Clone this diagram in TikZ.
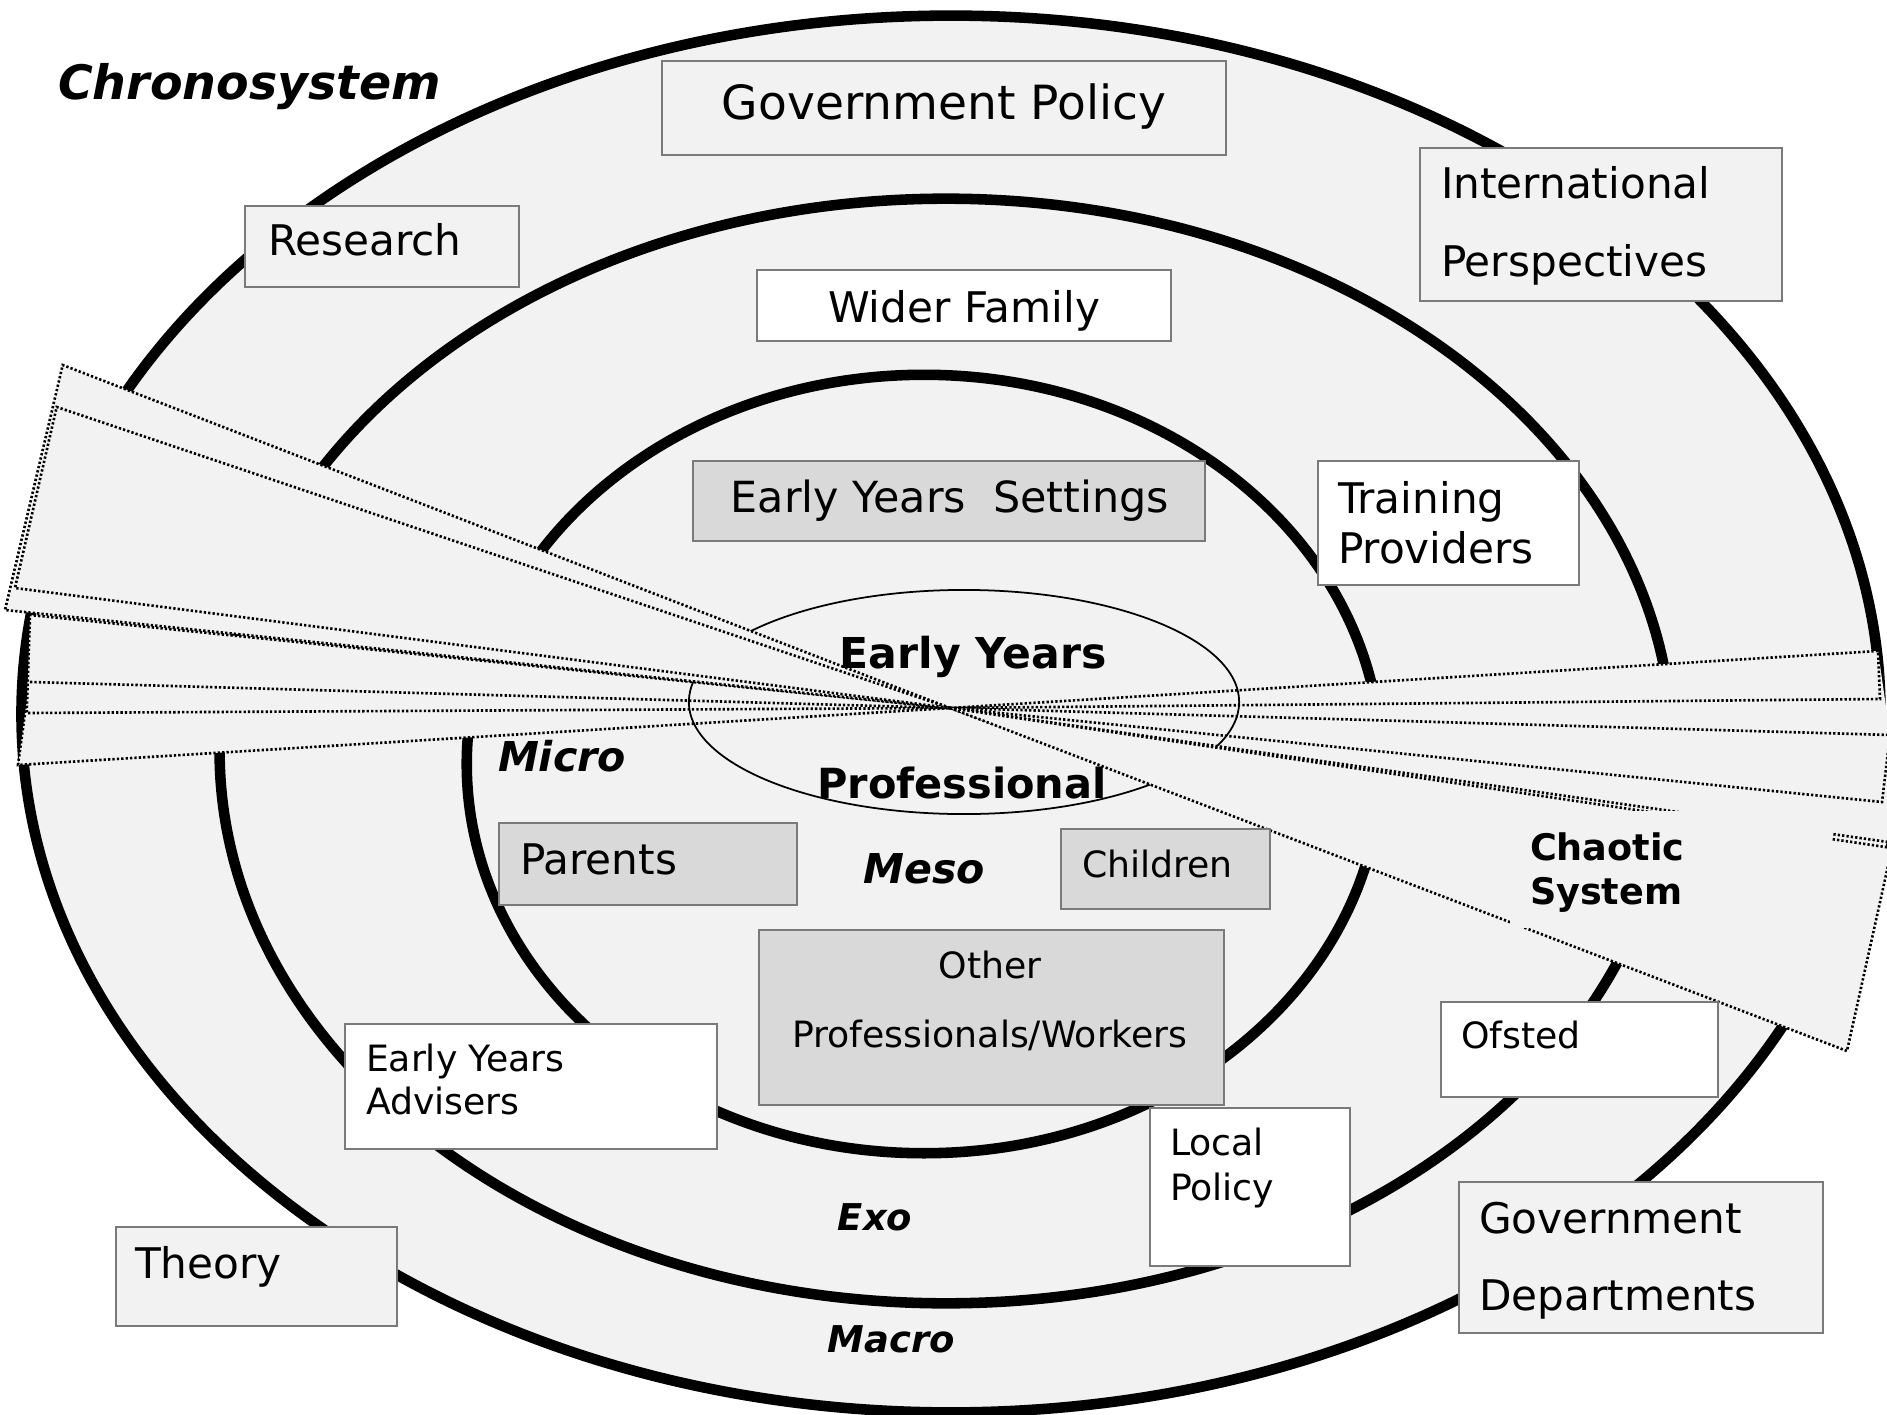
\documentclass[tikz,border=0pt]{standalone}
\usepackage{fontspec}
\setmainfont{DejaVu Sans}
\definecolor{ringfill}{HTML}{F2F2F2}
\definecolor{boxgrey}{HTML}{D9D9D9}
\definecolor{boxedge}{HTML}{7A7A7A}
\begin{document}
\begin{tikzpicture}[x=0.01cm,y=-0.01cm,
  ringline/.style={draw=black,line width=3pt,fill=ringfill},
  beam/.style={fill=ringfill,draw=black,line width=0.75pt,dash pattern=on 0.65pt off 0.6pt},
  beamline/.style={draw=black,line width=0.75pt,dash pattern=on 0.65pt off 0.6pt},
  tbox/.style={draw=boxedge,line width=0.45pt},
  txt/.style={inner sep=0pt,outer sep=0pt},
  big/.style={txt,font=\fontsize{12}{14}\selectfont},
  small/.style={txt,font=\fontsize{10.3}{12}\selectfont},
  syslabel/.style={txt,font=\fontsize{11.7}{14}\selectfont\bfseries\itshape},
  syslabelsm/.style={txt,font=\fontsize{10.5}{12}\selectfont\bfseries\itshape}]
\useasboundingbox (0,0) rectangle (1887,1415);
\fill[white] (0,0) rectangle (1887,1415);

% rings
\draw[ringline] (951,714) ellipse [x radius=9.29cm, y radius=6.98cm];
\draw[ringline] (946,751) ellipse [x radius=7.26cm, y radius=5.52cm];
\draw[ringline] (924,764) ellipse [x radius=4.57cm, y radius=3.89cm];

\coordinate (C) at (950,708);

% lower fan (left) and upper fan (right)
\draw[beam] (C) -- (38,617) -- (18,765) -- cycle;
\draw[beam] (C) -- (30,615) -- (26.7,713) -- cycle;
\coordinate (lx) at (30,682);
\draw[beamline] (lx) -- (C);
\fill[ringfill] (C) -- (1878,651) -- (1890,735) -- (1892,848) -- (1847,1051) -- cycle;
\draw[beam] (C) -- (1878,651) -- (1880,699) -- cycle;
\draw[beam] (C) -- (1890,735) -- (1882,802) -- cycle;

% inner ellipse
\draw[line width=0.5pt] (964,702) ellipse [x radius=2.75cm, y radius=1.12cm];

% chaotic beam
\draw[beam] (C) -- (62.7,365) -- (5,610) -- cycle;
\draw[beam] (C) -- (56.7,407) -- (15,588) -- cycle;
\draw[beam] (C) -- (1888,842) -- (1848,1028) -- cycle;
\draw[beam] (C) -- (1892,848) -- (1847,1051) -- cycle;

% chaotic system label area
\fill[ringfill] (1510,811) rectangle (1832,928);
\node[txt,anchor=base west,font=\fontsize{10.4}{12}\selectfont\bfseries] (chaos1) at (1530,860) {Chaotic};
\node[txt,anchor=base west,font=\fontsize{10.4}{12}\selectfont\bfseries] (chaos2) at (1530,904) {System};

% boxes
\draw[tbox,fill=ringfill] (662,61) rectangle (1226,155);
\draw[tbox,fill=ringfill] (245,206) rectangle (519,287);
\draw[tbox,fill=ringfill] (1420,148) rectangle (1782,301);
\draw[tbox,fill=white] (757,270) rectangle (1171,341);
\draw[tbox,fill=boxgrey] (693,461) rectangle (1205,541);
\draw[tbox,fill=white] (1318,461) rectangle (1579,585);
\draw[tbox,fill=boxgrey] (499,823) rectangle (797,905);
\draw[tbox,fill=boxgrey] (1061,829) rectangle (1270,909);
\draw[tbox,fill=boxgrey] (759,930) rectangle (1224,1105);
\draw[tbox,fill=white] (345,1024) rectangle (717,1149);
\draw[tbox,fill=white] (1441,1002) rectangle (1718,1097);
\draw[tbox,fill=white] (1150,1108) rectangle (1350,1266);
\draw[tbox,fill=ringfill] (116,1227) rectangle (397,1326);
\draw[tbox,fill=ringfill] (1459,1182) rectangle (1823,1333);

% texts
\node[txt,anchor=base west,font=\fontsize{13.5}{15}\selectfont\bfseries\itshape] (chrono) at (58,100) {Chronosystem};
\node[txt,anchor=base,font=\fontsize{13.4}{15}\selectfont] (govpol) at (944,120) {Government Policy};
\node[big,anchor=base west] (research) at (268,255) {Research};
\node[big,anchor=base west] (intl1) at (1441,199) {International};
\node[big,anchor=base west] (intl2) at (1441,276) {Perspectives};
\node[big,anchor=base] (wider) at (964,322) {Wider Family};
\node[txt,anchor=base,font=\fontsize{12.2}{14}\selectfont] (eys) at (950,512) {Early Years\ \ Settings};
\node[big,anchor=base west] (train1) at (1338,513) {Training};
\node[big,anchor=base west] (train2) at (1338,563) {Providers};
\node[txt,anchor=base,font=\fontsize{12.1}{14}\selectfont\bfseries] (eyp1) at (973,668) {Early Years};
\node[txt,anchor=base,font=\fontsize{11.8}{14}\selectfont\bfseries] (eyp2) at (962,798) {Professional};
\node[syslabel,anchor=base west] (micro) at (498,771) {Micro};
\node[big,anchor=base west] (parents) at (520,874) {Parents};
\node[syslabel,anchor=base] (meso) at (924,883) {Meso};
\node[small,anchor=base west] (children) at (1082,877) {Children};
\node[small,anchor=base] (other1) at (990,978) {Other};
\node[small,anchor=base] (other2) at (990,1047) {Professionals/Workers};
\node[small,anchor=base west] (eya1) at (366,1071) {Early Years};
\node[small,anchor=base west] (eya2) at (366,1114) {Advisers};
\node[small,anchor=base west] (ofsted) at (1461,1048) {Ofsted};
\node[small,anchor=base west] (local1) at (1170,1155) {Local};
\node[small,anchor=base west] (local2) at (1170,1200) {Policy};
\node[syslabelsm,anchor=base] (exo) at (875,1230) {Exo};
\node[big,anchor=base west] (theory) at (135,1278) {Theory};
\node[big,anchor=base west] (gd1) at (1479,1233) {Government};
\node[big,anchor=base west] (gd2) at (1479,1310) {Departments};
\node[syslabelsm,anchor=base] (macro) at (891,1352) {Macro};
\end{tikzpicture}
\end{document}
